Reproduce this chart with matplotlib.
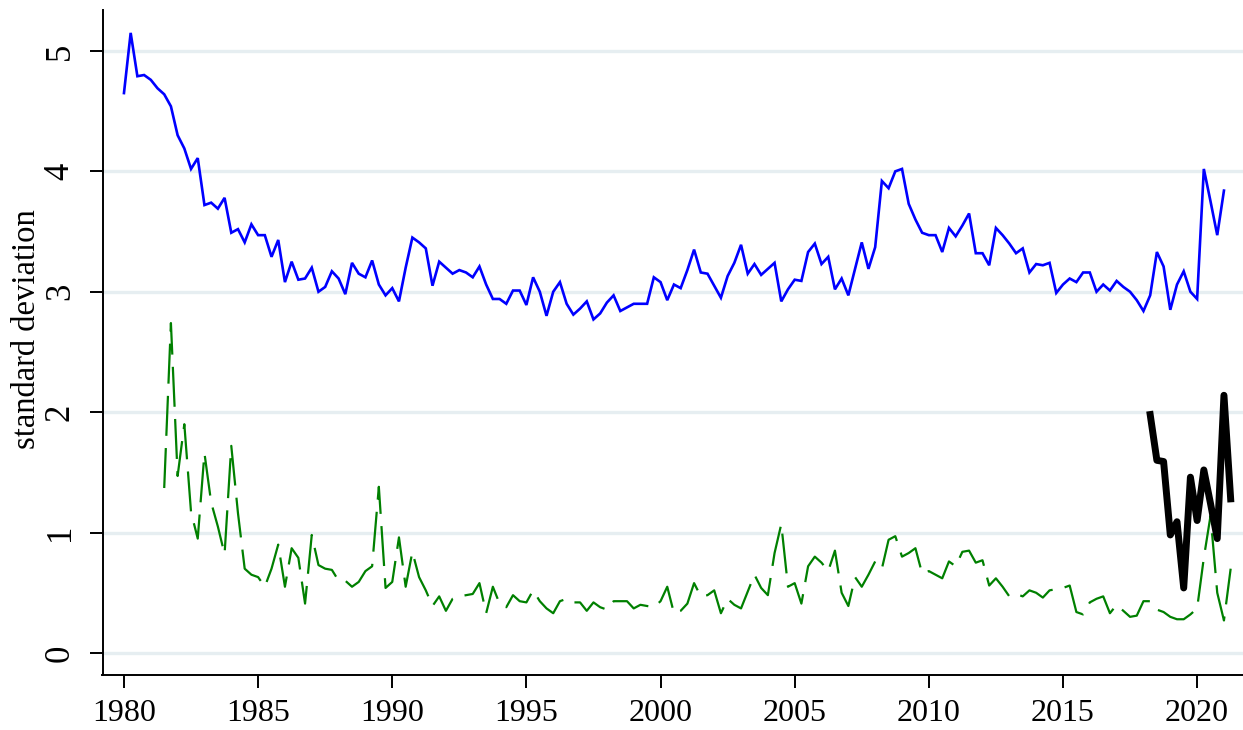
"""Разброс прогнозов: стандартное отклонение по кварталам."""

import matplotlib
matplotlib.use("Agg")
import matplotlib.pyplot as plt
import numpy as np

# Квартальные значения (первое значение — начало ряда)
blue_start = 1980.0
blue_sd = [
    4.65, 5.15, 4.79, 4.80, 4.76, 4.69, 4.64, 4.54, 4.30, 4.19, 4.02, 4.11,
    3.72, 3.74, 3.69, 3.78, 3.49, 3.52, 3.41, 3.56, 3.47, 3.47, 3.29, 3.43,
    3.08, 3.25, 3.10, 3.11, 3.20, 3.00, 3.04, 3.17, 3.11, 2.98, 3.24, 3.15,
    3.12, 3.26, 3.06, 2.97, 3.03, 2.92, 3.20, 3.45, 3.41, 3.36, 3.05, 3.25,
    3.20, 3.15, 3.18, 3.16, 3.12, 3.21, 3.06, 2.94, 2.94, 2.90, 3.01, 3.01,
    2.89, 3.12, 3.00, 2.80, 3.00, 3.08, 2.90, 2.81, 2.86, 2.92, 2.77, 2.82,
    2.91, 2.97, 2.84, 2.87, 2.90, 2.90, 2.90, 3.12, 3.08, 2.93, 3.06, 3.03,
    3.18, 3.35, 3.16, 3.15, 3.05, 2.95, 3.13, 3.24, 3.39, 3.15, 3.23, 3.14,
    3.19, 3.24, 2.92, 3.02, 3.10, 3.09, 3.33, 3.40, 3.23, 3.29, 3.02, 3.11,
    2.97, 3.19, 3.41, 3.19, 3.37, 3.92, 3.86, 4.00, 4.02, 3.73, 3.60, 3.49,
    3.47, 3.47, 3.33, 3.53, 3.46, 3.55, 3.65, 3.32, 3.32, 3.22, 3.53, 3.47,
    3.40, 3.32, 3.36, 3.16, 3.23, 3.22, 3.24, 2.99, 3.06, 3.11, 3.08, 3.16,
    3.16, 3.00, 3.06, 3.01, 3.09, 3.04, 3.00, 2.93, 2.84, 2.97, 3.33, 3.21,
    2.85, 3.06, 3.17, 3.00, 2.94, 4.02, 3.75, 3.47, 3.84,
]

green_start = 1981.5
green_sd = [
    1.37, 2.74, 1.47, 1.90, 1.17, 0.95, 1.66, 1.25, 1.05, 0.82,
    1.72, 1.16, 0.70, 0.65, 0.63, 0.55, 0.70, 0.90, 0.55, 0.87, 0.79, 0.41,
    0.98, 0.73, 0.70, 0.69, 0.60, 0.60, 0.55, 0.59, 0.68, 0.72, 1.38, 0.54,
    0.59, 0.96, 0.55, 0.84, 0.63, 0.52, 0.39, 0.47, 0.35, 0.45, 0.47, 0.48,
    0.49, 0.58, 0.33, 0.55, 0.41, 0.38, 0.48, 0.43, 0.42, 0.52, 0.43, 0.37,
    0.33, 0.43, 0.45, 0.42, 0.42, 0.35, 0.42, 0.38, 0.36, 0.43, 0.43, 0.43,
    0.37, 0.40, 0.39, 0.38, 0.43, 0.55, 0.33, 0.35, 0.41, 0.58, 0.47, 0.48,
    0.52, 0.33, 0.45, 0.40, 0.37, 0.51, 0.65, 0.54, 0.48, 0.83, 1.07, 0.55,
    0.58, 0.41, 0.72, 0.80, 0.75, 0.68, 0.85, 0.50, 0.39, 0.63, 0.55, 0.65,
    0.76, 0.70, 0.94, 0.97, 0.80, 0.83, 0.87, 0.66, 0.68, 0.65, 0.62, 0.76,
    0.72, 0.84, 0.85, 0.75, 0.77, 0.56, 0.62, 0.55, 0.47, 0.49, 0.47, 0.52,
    0.50, 0.46, 0.52, 0.53, 0.54, 0.56, 0.34, 0.32, 0.42, 0.45, 0.47, 0.33,
    0.40, 0.35, 0.30, 0.31, 0.43, 0.43, 0.36, 0.34, 0.30, 0.28, 0.28, 0.32,
    0.37, 0.79, 1.14, 0.50, 0.27, 0.70,
]

black_start = 2018.25
black_sd = [1.98, 1.60, 1.59, 0.98, 1.09, 0.54, 1.46, 1.10, 1.52, 1.24, 0.95, 2.14, 1.28]

x_ticks = [1980, 1985, 1990, 1995, 2000, 2005, 2010, 2015, 2020]
y_ticks = [0, 1, 2, 3, 4, 5]


def quarters(start, values):
    """Даты кварталов в долях года."""
    return start + 0.25 * np.arange(len(values))


plt.rcParams["font.family"] = ["Liberation Serif", "DejaVu Serif"]
plt.rcParams["font.size"] = 23

fig = plt.figure(figsize=(12.43, 7.30), dpi=100)
ax = fig.add_axes([102.5 / 1243, 55 / 730, 1 - 102.5 / 1243, 665 / 730])

ax.plot(quarters(blue_start, blue_sd), blue_sd, color="#0000ff", lw=1.9,
        solid_joinstyle="miter")
ax.plot(quarters(green_start, green_sd), green_sd, color="#008000", lw=1.6,
        dashes=(18, 5.5))
ax.plot(quarters(black_start, black_sd), black_sd, color="black", lw=5.0)

ax.set_xlim(1979.2, 2021.71)
ax.set_ylim(-0.183, 5.34)
ax.set_xticks(x_ticks)
ax.set_yticks(y_ticks)
ax.set_yticklabels([str(v) for v in y_ticks], rotation=90, va="center",
                   fontsize=25)

# Сетка в стиле Stata
ax.grid(axis="y", color="#e6eef1", lw=2.4)
ax.set_axisbelow(True)

for side in ["top", "right"]:
    ax.spines[side].set_visible(False)
for side in ["left", "bottom"]:
    ax.spines[side].set_linewidth(1.4)

ax.tick_params(axis="both", length=9.5, width=1.4, direction="out")
ax.tick_params(axis="y", pad=9)
ax.tick_params(axis="x", pad=8)

ax.set_ylabel("standard deviation", fontsize=23.5)
ax.yaxis.set_label_coords(-0.053, 0.52)

fig.savefig("out.png", dpi=100)
